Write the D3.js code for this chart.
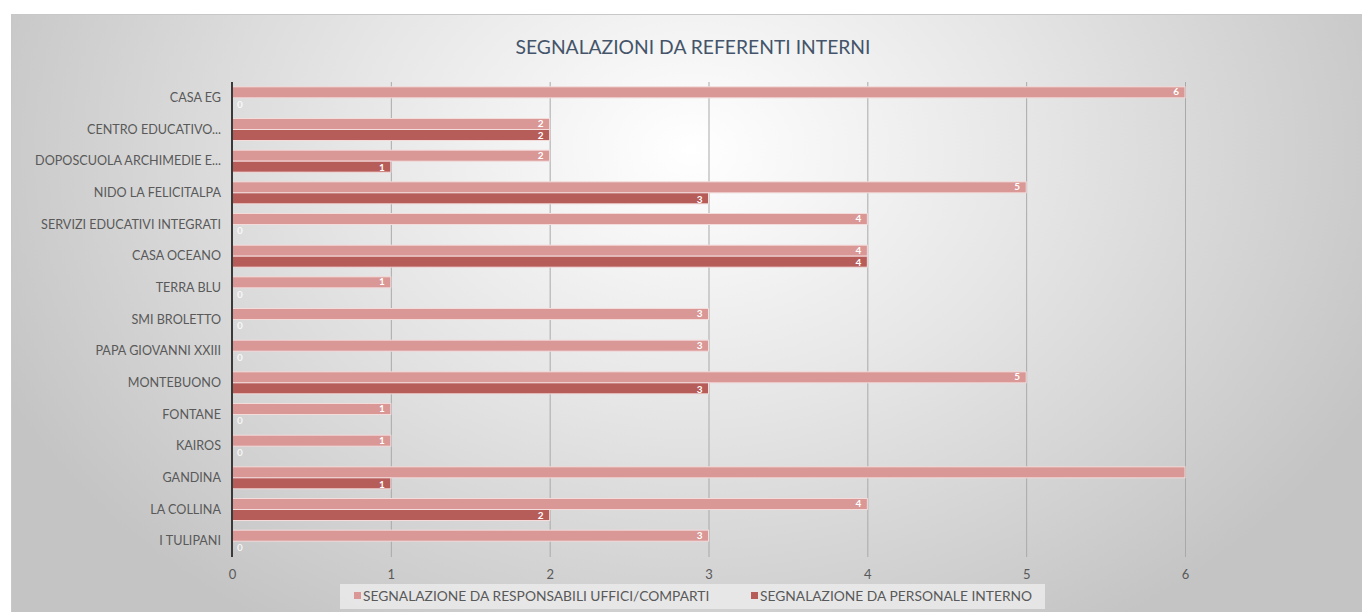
<!DOCTYPE html>
<html>
<head>
<meta charset="utf-8">
<script src="https://cdn.jsdelivr.net/npm/d3@7"></script>
<style>
  html, body { margin: 0; padding: 0; background: #ffffff; }
  svg { display: block; }
  text { font-family: Lato, "Open Sans", sans-serif; }
</style>
</head>
<body>
<svg id="chart" width="1362" height="612"></svg>
<script>
// Categories, top to bottom
const categories = [
  "CASA EG",
  "CENTRO EDUCATIVO...",
  "DOPOSCUOLA ARCHIMEDIE E...",
  "NIDO LA FELICITALPA",
  "SERVIZI EDUCATIVI INTEGRATI",
  "CASA OCEANO",
  "TERRA BLU",
  "SMI BROLETTO",
  "PAPA GIOVANNI XXIII",
  "MONTEBUONO",
  "FONTANE",
  "KAIROS",
  "GANDINA",
  "LA COLLINA",
  "I TULIPANI"
];
const responsabili = [6, 2, 2, 5, 4, 4, 1, 3, 3, 5, 1, 1, 6, 4, 3];
const personale    = [0, 2, 1, 3, 0, 4, 0, 0, 0, 3, 0, 0, 1, 2, 0];
const seriesNames = [
  "SEGNALAZIONE DA RESPONSABILI UFFICI/COMPARTI",
  "SEGNALAZIONE DA PERSONALE INTERNO"
];
const xTicks = [0, 1, 2, 3, 4, 5, 6];
const title = "SEGNALAZIONI DA REFERENTI INTERNI";
// Data labels left off in the chart (category, series index)
const hiddenLabels = [["GANDINA", 0]];

const colors = ["#d99795", "#b65c59"];
const W = 1362, H = 612;
const svg = d3.select("#chart");

// Background gradient of the chart area
const defs = svg.append("defs");
const grad = defs.append("radialGradient")
  .attr("id", "bg").attr("gradientUnits", "userSpaceOnUse")
  .attr("cx", 690).attr("cy", 150).attr("r", 760)
  .attr("gradientTransform", "translate(690,150) scale(1,0.75) translate(-690,-150)");
grad.append("stop").attr("offset", "0").attr("stop-color", "#ffffff");
grad.append("stop").attr("offset", "0.45").attr("stop-color", "#e6e6e6");
grad.append("stop").attr("offset", "1").attr("stop-color", "#c4c4c4");

svg.append("rect").attr("x", 11).attr("y", 14).attr("width", W - 11).attr("height", H - 14)
  .attr("fill", "url(#bg)");
svg.append("path").attr("d", `M11.5,${H} V14.5 H${W}`)
  .attr("fill", "none").attr("stroke", "#c8c8c8").attr("stroke-width", 1);

// Title
svg.append("text").attr("x", 693).attr("y", 54).attr("text-anchor", "middle")
  .attr("font-size", 19.3).attr("fill", "#44546a").text(title);

// Scales
const x = d3.scaleLinear().domain([0, 6]).range([232, 1185]);
const y = d3.scaleBand().domain(categories).range([82, 557]).paddingInner(0.305).paddingOuter(0.1525);
const ySub = d3.scaleBand().domain([0, 1]).range([0, y.bandwidth()]);

// Gridlines
const gx = svg.append("g").attr("transform", `translate(0,557)`)
  .call(d3.axisBottom(x).tickValues(xTicks).tickSize(-(557 - 82)).tickFormat(""));
gx.select(".domain").remove();
gx.selectAll(".tick line").attr("stroke", "#a9a9a9").attr("stroke-width", 1);

// Tick labels
const gxl = svg.append("g").attr("transform", `translate(0,567)`)
  .call(d3.axisBottom(x).tickValues(xTicks).tickSize(0).tickFormat(d3.format("d")));
gxl.select(".domain").remove();
gxl.selectAll("text").attr("font-size", 13).attr("fill", "#595959").attr("font-family", "Lato, sans-serif");

// Category labels
const gy = svg.append("g").attr("transform", `translate(221,0)`)
  .call(d3.axisLeft(y).tickSize(0).tickPadding(0));
gy.select(".domain").remove();
gy.selectAll("text").attr("font-size", 12.6).attr("fill", "#595959").attr("font-family", "Lato, sans-serif");

// Bars
const rows = categories.map((c, i) => ({ c, vals: [responsabili[i], personale[i]] }));
const groups = svg.append("g").selectAll("g").data(rows).join("g")
  .attr("transform", d => `translate(0,${y(d.c)})`);

groups.selectAll("rect").data(d => d.vals.map((v, s) => ({ v, s, c: d.c }))).join("rect")
  .attr("x", x(0))
  .attr("y", d => ySub(d.s))
  .attr("width", d => x(d.v) - x(0))
  .attr("height", ySub.bandwidth())
  .attr("fill", d => colors[d.s])
  .attr("stroke", d => d.v > 0 ? "#f4dcdb" : "none")
  .attr("stroke-width", 1);

// Value labels (inside end); the pair of labels in a row is nudged apart slightly
groups.selectAll("text.val").data(d => d.vals.map((v, s) => ({ v, s, c: d.c })))
  .join("text").attr("class", "val")
  .filter(d => !hiddenLabels.some(h => h[0] === d.c && h[1] === d.s))
  .attr("x", d => d.v > 0 ? x(d.v) - 6 : x(0) + 5)
  .attr("y", d => ySub(d.s) + ySub.bandwidth() / 2 + (d.s === 0 ? -0.6 : 0.6))
  .attr("dy", "0.36em")
  .attr("text-anchor", d => d.v > 0 ? "end" : "start")
  .attr("font-size", 10).attr("font-weight", "bold")
  .attr("fill", "#ffffff")
  .attr("fill-opacity", d => d.v > 0 ? 1 : 0.8)
  .text(d => d.v);

// Vertical axis line
svg.append("line").attr("x1", x(0)).attr("x2", x(0)).attr("y1", 82).attr("y2", 557)
  .attr("stroke", "#3a3a3a").attr("stroke-width", 2);

// Legend
const lg = svg.append("g");
lg.append("rect").attr("x", 340).attr("y", 584).attr("width", 705).attr("height", 25)
  .attr("fill", "#ececec").attr("fill-opacity", 0.8);
const legendX = [354, 751];
seriesNames.forEach((n, i) => {
  lg.append("rect").attr("x", legendX[i]).attr("y", 592).attr("width", 7).attr("height", 7)
    .attr("fill", colors[i]);
  lg.append("text").attr("x", legendX[i] + 9).attr("y", 596).attr("dy", "0.36em")
    .attr("font-size", 13.8).attr("fill", "#595959").text(n);
});
</script>
</body>
</html>
